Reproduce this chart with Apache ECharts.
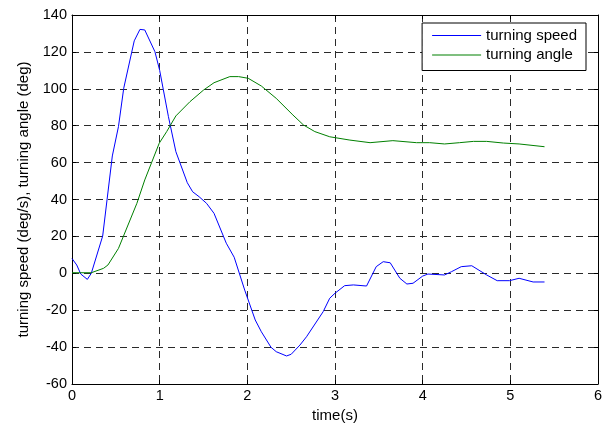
<!DOCTYPE html>
<html>
<head>
<meta charset="utf-8">
<script src="https://cdn.jsdelivr.net/npm/echarts@6/dist/echarts.min.js"></script>
<style>html,body{margin:0;padding:0;background:#fff;}#c{width:606px;height:423px;}</style>
</head>
<body>
<div id="c"></div>
<script>
const speedT = [0, 0.054, 0.1, 0.175, 0.22, 0.35, 0.46, 0.53, 0.59, 0.71, 0.775, 0.83, 0.946, 1.0, 1.1, 1.185, 1.315, 1.376, 1.45, 1.535, 1.62, 1.76, 1.85, 1.97, 2.09, 2.16, 2.27, 2.33, 2.447, 2.5, 2.6, 2.675, 2.865, 2.94, 3.0, 3.11, 3.21, 3.36, 3.47, 3.55, 3.63, 3.74, 3.82, 3.89, 4.0, 4.06, 4.25, 4.33, 4.44, 4.56, 4.73, 4.85, 4.99, 5.1, 5.26, 5.39];
const speedV = [8, 4.5, -0.4, -3.3, 0, 20.2, 63.6, 79.5, 100.3, 126, 132.2, 131.9, 120.1, 110, 84.9, 65.9, 49.1, 44.2, 41.5, 37.9, 32.5, 16.3, 8.7, -9.1, -25.3, -31.7, -40.1, -42.5, -44.8, -43.9, -38.9, -34.4, -20.8, -13.5, -10.8, -6.7, -6.3, -6.9, 3.6, 6.3, 5.7, -2.7, -5.8, -5.4, -1.5, -0.4, -0.9, 0.9, 3.6, 4.1, -0.9, -4.0, -4.0, -2.7, -4.7, -4.7];
const angleT = [0, 0.22, 0.36, 0.41, 0.53, 0.74, 0.83, 0.995, 1.08, 1.185, 1.345, 1.5, 1.62, 1.8, 1.9, 2.01, 2.16, 2.33, 2.52, 2.64, 2.77, 2.94, 3.17, 3.4, 3.66, 3.93, 4.08, 4.25, 4.42, 4.58, 4.73, 4.92, 5.1, 5.39];
const angleV = [0.3, 0.3, 2.7, 4.5, 13.5, 37.9, 50.6, 70.5, 76.8, 85.3, 93, 99.3, 103.3, 106.6, 106.6, 105.7, 101.5, 94.8, 85.8, 80.4, 76.8, 74, 72.2, 70.8, 71.9, 70.8, 70.8, 70.1, 70.8, 71.5, 71.5, 70.6, 70.1, 68.6];
const seriesNames = ['turning speed', 'turning angle'];
const seriesColors = ['#0000ff', '#008000'];
const xTitle = 'time(s)';
const yTitle = 'turning speed (deg/s), turning angle (deg)';

const chart = echarts.init(document.getElementById('c'), null, {renderer: 'canvas'});
const font = 'Liberation Sans, Arial, sans-serif';
const gridLine = {show: true, lineStyle: {color: '#2a2a2a', type: [7, 5], width: 1}};
const axisLine = {show: true, onZero: false, lineStyle: {color: '#000', width: 1}};
const tick = {show: true, inside: true, length: 4, lineStyle: {color: '#000'}};
chart.setOption({
  animation: false,
  backgroundColor: '#fff',
  grid: {left: 72, right: 8, top: 15, bottom: 39, containLabel: false, outerBoundsMode: 'none'},
  legend: {
    right: 20, top: 23, orient: 'vertical',
    data: seriesNames.map((n, i) => ({name: n, itemStyle: {color: seriesColors[i], borderWidth: 0}, lineStyle: {width: 0}})),
    backgroundColor: '#fff', borderColor: '#000', borderWidth: 1,
    padding: [5, 9, 8, 10], itemGap: 4.5,
    icon: 'rect', itemWidth: 49, itemHeight: 1,
    textStyle: {fontFamily: font, fontSize: 15, color: '#000', lineHeight: 14}
  },
  xAxis: [{
    type: 'value', min: 0, max: 6, interval: 1, position: 'bottom',
    name: xTitle, nameLocation: 'middle', nameGap: 21,
    nameTextStyle: {fontFamily: font, fontSize: 15, color: '#000'},
    axisLine: axisLine, axisTick: tick, splitLine: gridLine,
    axisLabel: {fontFamily: font, fontSize: 14.5, color: '#000', margin: 4}
  }, {
    type: 'value', min: 0, max: 6, interval: 1, position: 'top',
    axisLine: axisLine, axisTick: tick, splitLine: {show: false}, axisLabel: {show: false}
  }],
  yAxis: [{
    type: 'value', min: -60, max: 140, interval: 20, position: 'left',
    name: yTitle, nameLocation: 'middle', nameGap: 41,
    nameTextStyle: {fontFamily: font, fontSize: 15, color: '#000'},
    axisLine: axisLine, axisTick: tick, splitLine: gridLine,
    axisLabel: {fontFamily: font, fontSize: 14.5, color: '#000', margin: 5}
  }, {
    type: 'value', min: -60, max: 140, interval: 20, position: 'right',
    axisLine: axisLine, axisTick: tick, splitLine: {show: false}, axisLabel: {show: false}
  }],
  series: [{
    name: seriesNames[0], type: 'line', showSymbol: false, symbol: 'none',
    data: speedT.map((t, i) => [t, speedV[i]]),
    lineStyle: {color: seriesColors[0], width: 1}, itemStyle: {color: seriesColors[0]}, z: 3
  }, {
    name: seriesNames[1], type: 'line', showSymbol: false, symbol: 'none',
    data: angleT.map((t, i) => [t, angleV[i]]),
    lineStyle: {color: seriesColors[1], width: 1}, itemStyle: {color: seriesColors[1]}, z: 3
  }]
});
</script>
</body>
</html>
